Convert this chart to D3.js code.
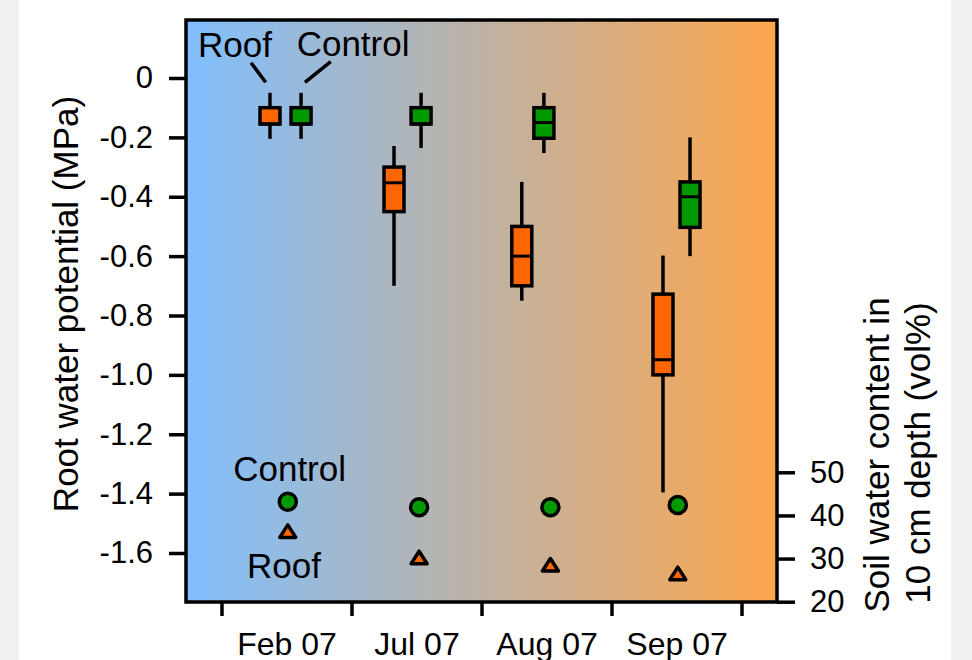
<!DOCTYPE html>
<html>
<head>
<meta charset="utf-8">
<script src="https://cdn.jsdelivr.net/npm/d3@7"></script>
<style>
  body { margin: 0; background: #f0f0f0; }
  svg { display: block; }
  text { font-family: "Liberation Sans", Arial, sans-serif; fill: #000; }
</style>
</head>
<body>
<script>
// sampling campaigns
const months = ["Feb 07", "Jul 07", "Aug 07", "Sep 07"];
const monthTicks = [0.5, 1.5, 2.5, 3.5, 4.5];

// root water potential (MPa), box statistics per campaign
const roofPos = [0.873, 1.827, 2.81, 3.896];
const roofMin = [-0.205, -0.70, -0.75, -1.396];
const roofQ1 = [-0.155, -0.45, -0.70, -1.00];
const roofMed = [-0.155, -0.353, -0.60, -0.949];
const roofQ3 = [-0.10, -0.30, -0.50, -0.728];
const roofMax = [-0.05, -0.229, -0.35, -0.598];

const controlPos = [1.112, 2.035, 2.98, 4.104];
const controlMin = [-0.205, -0.236, -0.253, -0.60];
const controlQ1 = [-0.155, -0.155, -0.203, -0.503];
const controlMed = [-0.155, -0.155, -0.15, -0.40];
const controlQ3 = [-0.10, -0.10, -0.10, -0.35];
const controlMax = [-0.05, -0.05, -0.05, -0.20];

// soil water content in 10 cm depth (vol%)
const soilPos = [1.01, 2.02, 3.03, 4.01];
const soilControl = [43.2, 41.9, 41.9, 42.4];
const soilRoof = [36.3, 30.2, 28.5, 26.5];

const yTicks = [0, -0.2, -0.4, -0.6, -0.8, -1.0, -1.2, -1.4, -1.6];
const y2Ticks = [20, 30, 40, 50];

const orange = "#ff6600",
      green = "#009900";

let margin = null,
    width = null,
    height = null,
    svg = null,
    plot = null;
let x, y, y2 = null;

setupCanvasSize();
appendSvg("body");
setupScales();
appendBackground();
appendAxes();
appendBoxes(roofPos, roofMin, roofQ1, roofMed, roofQ3, roofMax, orange);
appendBoxes(controlPos, controlMin, controlQ1, controlMed, controlQ3, controlMax, green);
appendSoilPoints();
appendNotes();
appendFrame();
appendTitles();

function setupCanvasSize() {
  margin = {top: 20, left: 186, bottom: 58, right: 195};
  width = 972 - margin.left - margin.right;
  height = 660 - margin.top - margin.bottom;
}

function appendSvg(domElement) {
  const root = d3.select(domElement).append("svg")
    .attr("width", 972)
    .attr("height", 660);
  // white panel
  root.append("rect")
    .attr("x", 19).attr("y", 0)
    .attr("width", 932).attr("height", 660)
    .attr("fill", "#ffffff");
  svg = root;
  plot = root.append("g")
    .attr("transform", `translate(${margin.left}, ${margin.top})`);
}

function setupScales() {
  x = d3.scaleLinear().domain([0.227, 4.773]).range([0, width]);
  y = d3.scaleLinear().domain([0, -1.6]).range([58, 533]);
  y2 = d3.scaleLinear().domain([20, 50]).range([581.7, 452.3]);
}

function appendBackground() {
  const grad = svg.append("defs").append("linearGradient")
    .attr("id", "bg")
    .attr("x1", "0%").attr("x2", "100%")
    .attr("y1", "0%").attr("y2", "0%");
  grad.append("stop").attr("offset", "0%").attr("stop-color", "#80bffe");
  grad.append("stop").attr("offset", "100%").attr("stop-color", "#fda64c");
  plot.append("rect")
    .attr("width", width)
    .attr("height", height)
    .attr("fill", "url(#bg)");
}

function styleAxis(g, size) {
  g.select(".domain").remove();
  g.selectAll(".tick line").attr("stroke", "#000").attr("stroke-width", 3.5);
  g.selectAll(".tick text").style("font-size", size + "px");
}

function appendAxes() {
  // left: root water potential
  plot.append("g")
    .call(d3.axisLeft(y)
      .tickValues(yTicks)
      .tickSize(17)
      .tickPadding(16)
      .tickFormat(d => d === 0 ? "0" : d.toFixed(1)))
    .call(g => styleAxis(g, 31));

  // right: soil water content
  plot.append("g")
    .attr("transform", `translate(${width}, 0)`)
    .call(d3.axisRight(y2)
      .tickValues(y2Ticks)
      .tickSize(18)
      .tickPadding(15))
    .call(g => styleAxis(g, 31));

  // bottom: separators between campaigns
  plot.append("g")
    .attr("transform", `translate(0, ${height})`)
    .call(d3.axisBottom(x).tickValues(monthTicks).tickSize(14).tickFormat(""))
    .call(g => styleAxis(g, 31));

  // bottom: campaign labels
  plot.append("g")
    .attr("transform", `translate(0, ${height})`)
    .call(d3.axisBottom(x)
      .tickValues([1, 2, 3, 4])
      .tickSize(0)
      .tickPadding(30)
      .tickFormat((d, i) => months[i]))
    .call(g => styleAxis(g, 32));
}

function appendBoxes(pos, lo, q1, med, q3, hi, color) {
  const rows = pos.map((p, i) => ({p, lo: lo[i], q1: q1[i], med: med[i], q3: q3[i], hi: hi[i]}));
  const bw = 20;
  const g = plot.append("g");
  // whiskers
  g.selectAll("line.whisker")
    .data(rows)
    .enter().append("line")
    .attr("x1", d => x(d.p)).attr("x2", d => x(d.p))
    .attr("y1", d => y(d.hi)).attr("y2", d => y(d.lo))
    .attr("stroke", "#000")
    .attr("stroke-width", 3.5);
  // boxes
  g.selectAll("rect")
    .data(rows)
    .enter().append("rect")
    .attr("x", d => x(d.p) - bw / 2)
    .attr("width", bw)
    .attr("y", d => y(d.q3))
    .attr("height", d => y(d.q1) - y(d.q3))
    .attr("fill", color)
    .attr("stroke", "#000")
    .attr("stroke-width", 3.5);
  // medians
  g.selectAll("line.median")
    .data(rows)
    .enter().append("line")
    .attr("x1", d => x(d.p) - bw / 2).attr("x2", d => x(d.p) + bw / 2)
    .attr("y1", d => y(d.med)).attr("y2", d => y(d.med))
    .attr("stroke", "#000")
    .attr("stroke-width", 3);
}

function appendSoilPoints() {
  plot.selectAll("circle.soil")
    .data(soilControl)
    .enter().append("circle")
    .attr("cx", (d, i) => x(soilPos[i]))
    .attr("cy", d => y2(d))
    .attr("r", 8.5)
    .attr("fill", green)
    .attr("stroke", "#000")
    .attr("stroke-width", 3.5);

  const tri = "M0,-6.5L8,6L-8,6Z";
  plot.selectAll("path.soil")
    .data(soilRoof)
    .enter().append("path")
    .attr("d", tri)
    .attr("transform", (d, i) => `translate(${x(soilPos[i])}, ${y2(d)})`)
    .attr("fill", orange)
    .attr("stroke", "#000")
    .attr("stroke-width", 3.5)
    .attr("stroke-linejoin", "round");
}

function appendNotes() {
  // labels for the first campaign's boxes (left scale) and points (right scale)
  const topNotes = [
    {text: "Roof", t: 0.604, v: 0.0717, from: [0.727, 0.0515], to: [0.84, -0.0145]},
    {text: "Control", t: 1.512, v: 0.074, from: [1.34, 0.0549], to: [1.142, -0.0145]}
  ];
  const bottomNotes = [
    {text: "Control", t: 1.024, v: 48.05},
    {text: "Roof", t: 0.98, v: 25.4}
  ];
  plot.selectAll("text.topnote")
    .data(topNotes)
    .enter().append("text")
    .attr("x", d => x(d.t))
    .attr("y", d => y(d.v))
    .attr("text-anchor", "middle")
    .style("font-size", "35px")
    .text(d => d.text);
  plot.selectAll("line.leader")
    .data(topNotes)
    .enter().append("line")
    .attr("x1", d => x(d.from[0])).attr("y1", d => y(d.from[1]))
    .attr("x2", d => x(d.to[0])).attr("y2", d => y(d.to[1]))
    .attr("stroke", "#000")
    .attr("stroke-width", 3.5);
  plot.selectAll("text.bottomnote")
    .data(bottomNotes)
    .enter().append("text")
    .attr("x", d => x(d.t))
    .attr("y", d => y2(d.v))
    .attr("text-anchor", "middle")
    .style("font-size", "35px")
    .text(d => d.text);
}

function appendFrame() {
  plot.append("rect")
    .attr("width", width)
    .attr("height", height)
    .attr("fill", "none")
    .attr("stroke", "#000")
    .attr("stroke-width", 3.5);
}

function appendTitles() {
  svg.append("text")
    .attr("transform", "translate(78, 304) rotate(-90)")
    .attr("text-anchor", "middle")
    .style("font-size", "35px")
    .text("Root water potential (MPa)");
  svg.append("text")
    .attr("transform", "translate(889, 455) rotate(-90)")
    .attr("text-anchor", "middle")
    .style("font-size", "35px")
    .text("Soil water content in");
  svg.append("text")
    .attr("transform", "translate(930, 453) rotate(-90)")
    .attr("text-anchor", "middle")
    .style("font-size", "35px")
    .text("10 cm depth (vol%)");
}
</script>
</body>
</html>
